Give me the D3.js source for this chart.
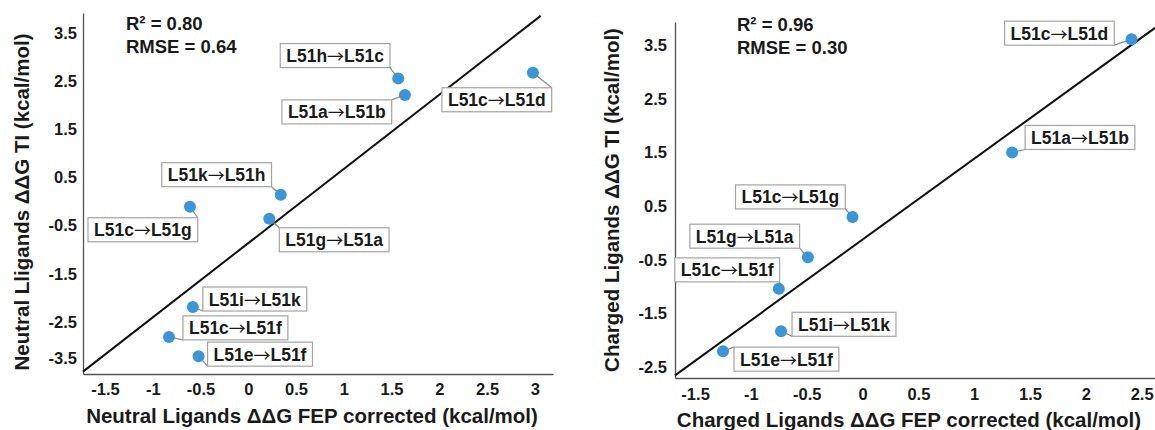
<!DOCTYPE html>
<html>
<head>
<meta charset="utf-8">
<script src="https://cdn.jsdelivr.net/npm/d3@7"></script>
<style>
body { margin: 0; background: #fff; }
text { font-family: "Liberation Sans", Arial, sans-serif; font-weight: bold; fill: #1a1a1a; }
</style>
</head>
<body>
<svg id="chart" width="1155" height="430"></svg>
<script>
// values (kcal/mol)
var neutralNames = ['L51h→L51c', 'L51a→L51b', 'L51c→L51d', 'L51k→L51h', 'L51c→L51g', 'L51g→L51a', 'L51i→L51k', 'L51c→L51f', 'L51e→L51f'];
var neutralFep = [1.57, 1.64, 2.98, 0.34, -0.61, 0.22, -0.58, -0.83, -0.52];
var neutralTi = [2.55, 2.21, 2.67, 0.14, -0.11, -0.36, -2.19, -2.81, -3.21];
var neutralFitX = [-1.73, 3.06];
var neutralFitY = [-3.53, 3.85];
var neutralStats = ['R² = 0.80', 'RMSE = 0.64'];
var neutralXTicks = [-1.5, -1, -0.5, 0, 0.5, 1, 1.5, 2, 2.5, 3];
var neutralYTicks = [3.5, 2.5, 1.5, 0.5, -0.5, -1.5, -2.5, -3.5];

var chargedNames = ['L51c→L51d', 'L51a→L51b', 'L51c→L51g', 'L51g→L51a', 'L51c→L51f', 'L51i→L51k', 'L51e→L51f'];
var chargedFep = [2.41, 1.34, -0.09, -0.49, -0.75, -0.73, -1.25];
var chargedTi = [3.61, 1.50, 0.30, -0.45, -1.04, -1.83, -2.20];
var chargedFitX = [-1.68, 2.62];
var chargedFitY = [-2.65, 3.82];
var chargedStats = ['R² = 0.96', 'RMSE = 0.30'];
var chargedXTicks = [-1.5, -1, -0.5, 0, 0.5, 1, 1.5, 2, 2.5];
var chargedYTicks = [3.5, 2.5, 1.5, 0.5, -0.5, -1.5, -2.5];

// label box placement, px from the dot (top-left corner of box)
var neutralLabelPos = [[-118, -35], [-123, 5], [-91, 15], [-119, -32], [-102, 11], [10, 9], [10, -20], [14, -21], [9, -14]];
var chargedLabelPos = [[-127, -18], [13, -27], [-117, -32], [-118, -33], [-104, -31], [11, -19], [11, -4]];

var svg = d3.select('#chart');

function drawPanel(p) {
    var x = d3.scaleLinear().domain(p.xDomain).range(p.xRange);
    var y = d3.scaleLinear().domain(p.yDomain).range(p.yRange);
    var g = svg.append('g');

    var xAxis = g.append('g')
        .attr('transform', 'translate(0,' + p.yRange[0] + ')')
        .call(d3.axisBottom(x).tickValues(p.xTicks).tickSize(0).tickPadding(p.xPad).tickFormat(function (d) { return String(d); }));
    var yAxis = g.append('g')
        .attr('transform', 'translate(' + p.xRange[0] + ',0)')
        .call(d3.axisLeft(y).tickValues(p.yTicks).tickSize(0).tickPadding(p.yPad).tickFormat(function (d) { return String(d); }));
    g.selectAll('.domain').attr('stroke', '#555').attr('stroke-width', 1.3);
    g.selectAll('.tick text').attr('font-size', 16.5).attr('font-family', '"Liberation Sans", Arial, sans-serif').attr('fill', '#1a1a1a');
    if (p.nudgeBottom) {
        yAxis.selectAll('.tick text').filter(function (d) { return d === p.yTicks[p.yTicks.length - 1]; })
            .attr('dy', (0.32 * 16.5 - p.nudgeBottom) + 'px');
    }

    // fit line
    g.append('line')
        .attr('x1', x(p.fitX[0])).attr('y1', y(p.fitY[0]))
        .attr('x2', x(p.fitX[1])).attr('y2', y(p.fitY[1]))
        .attr('stroke', '#111').attr('stroke-width', 2);

    // stats
    p.stats.forEach(function (s, i) {
        g.append('text')
            .attr('x', p.statsX).attr('y', p.statsY + i * 22.5)
            .attr('font-size', 18.5)
            .text(s);
    });

    // axis titles
    g.append('text')
        .attr('transform', 'translate(' + p.yTitleX + ',' + p.yTitleY + ') rotate(-90)')
        .attr('text-anchor', 'middle')
        .attr('font-size', 20.5)
        .text(p.yTitle);
    g.append('text')
        .attr('x', p.xTitleX).attr('y', p.xTitleY)
        .attr('text-anchor', 'middle')
        .attr('font-size', 20.5)
        .text(p.xTitle);

    // labels with leader lines
    var boxH = 24;
    p.names.forEach(function (name, i) {
        var cx = x(p.xs[i]), cy = y(p.ys[i]);
        var bx = cx + p.labelPos[i][0], by = cy + p.labelPos[i][1];
        var lg = g.append('g');
        var leader = lg.append('line');
        var rect = lg.append('rect');
        var parts = name.split('→');
        var t = lg.append('text')
            .attr('x', bx + 6).attr('y', by + 18.5)
            .attr('font-size', 17.5);
        t.append('tspan').text(parts[0]);
        t.append('tspan')
            .attr('font-family', '"Noto Sans CJK SC", sans-serif')
            .attr('font-weight', 'normal')
            .attr('font-size', 17)
            .attr('dy', 1)
            .text('→');
        t.append('tspan').attr('dy', -1).text(parts[1]);
        var w = t.node().getComputedTextLength() + 12;
        rect.attr('x', bx).attr('y', by).attr('width', w).attr('height', boxH)
            .attr('fill', '#fff').attr('stroke', '#a3a3a3').attr('stroke-width', 1.2);
        // nearest corner of the box to the dot
        var corners = [[bx, by], [bx + w, by], [bx, by + boxH], [bx + w, by + boxH]];
        var best = corners[0], bd = Infinity;
        corners.forEach(function (c) {
            var d = Math.hypot(c[0] - cx, c[1] - cy);
            if (d < bd) { bd = d; best = c; }
        });
        leader.attr('x1', best[0]).attr('y1', best[1]).attr('x2', cx).attr('y2', cy)
            .attr('stroke', '#8a8a8a').attr('stroke-width', 1.2);
    });

    // dots
    g.selectAll('circle.pt')
        .data(p.xs)
        .enter().append('circle')
        .attr('class', 'pt')
        .attr('cx', function (d) { return x(d); })
        .attr('cy', function (d, i) { return y(p.ys[i]); })
        .attr('r', 6)
        .attr('fill', '#3b95d6');
}

drawPanel({
    names: neutralNames, xs: neutralFep, ys: neutralTi, labelPos: neutralLabelPos,
    fitX: neutralFitX, fitY: neutralFitY, stats: neutralStats,
    xTicks: neutralXTicks, yTicks: neutralYTicks,
    xDomain: [-1.73, 3.19], xRange: [83, 553],
    yDomain: [-3.58, 3.91], yRange: [374, 13],
    xPad: 9, yPad: 6, nudgeBottom: 12,
    statsX: 126, statsY: 30,
    yTitle: 'Neutral Lligands ΔΔG TI (kcal/mol)', yTitleX: 29, yTitleY: 202,
    xTitle: 'Neutral Ligands ΔΔG FEP corrected (kcal/mol)', xTitleX: 312, xTitleY: 423
});

drawPanel({
    names: chargedNames, xs: chargedFep, ys: chargedTi, labelPos: chargedLabelPos,
    fitX: chargedFitX, fitY: chargedFitY, stats: chargedStats,
    xTicks: chargedXTicks, yTicks: chargedYTicks,
    xDomain: [-1.68, 2.62], xRange: [675, 1155],
    yDomain: [-2.7, 3.93], yRange: [378, 22],
    xPad: 10, yPad: 8, nudgeBottom: 0,
    statsX: 737, statsY: 31,
    yTitle: 'Charged Ligands ΔΔG TI (kcal/mol)', yTitleX: 619, yTitleY: 200,
    xTitle: 'Charged Ligands ΔΔG FEP corrected (kcal/mol)', xTitleX: 909, xTitleY: 427
});
</script>
</body>
</html>
